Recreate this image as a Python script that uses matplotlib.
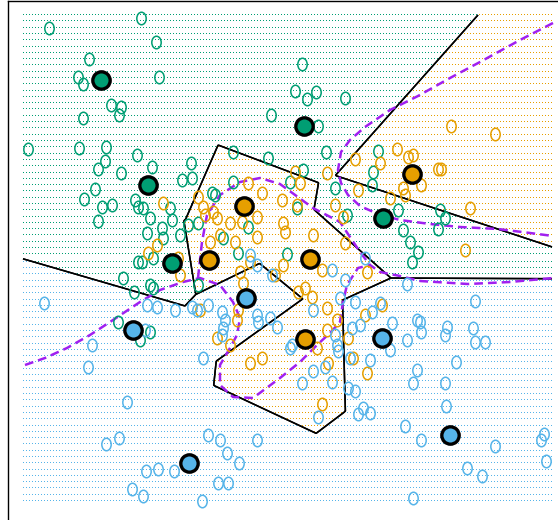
import numpy as np
import matplotlib.pyplot as plt
from matplotlib.colors import to_rgba
from matplotlib.path import Path

# all positions: x to the right, y downward (screen units)
green = '#009E73'
orange = '#E69F00'
blue = '#56B4E9'
purple = '#A020F0'

# k-means prototypes, five per class
proto_green_x = [101, 304, 148, 172, 383]
proto_green_y = [80, 126, 185, 263, 218]
proto_orange_x = [244, 209, 310, 305, 412]
proto_orange_y = [206, 260, 259, 339, 174]
proto_blue_x = [133, 246, 382, 450, 189]
proto_blue_y = [330, 298, 338, 435, 463]

# training points
green_x = [49, 141, 89, 78, 83, 111, 121, 119, 83, 28, 79, 106, 105, 98, 137, 121, 156, 159,
           271, 233, 268, 191, 152, 302, 295, 307, 316, 345, 318, 326, 378, 373, 303,
           95, 84, 102, 112, 98, 135, 138, 138, 123, 134, 118, 140,
           182, 192, 143, 150, 170, 172, 162, 163, 147, 180, 188, 198, 212, 215, 233, 223,
           248, 238, 153, 142, 150, 153, 198, 150,
           290, 297, 335, 372, 347, 398, 403, 410, 418, 412, 287, 440, 445, 438]
green_y = [28, 18, 59, 77, 84, 105, 107, 115, 118, 149, 148, 147, 161, 169, 155, 173, 42, 77,
           115, 152, 158, 163, 167, 64, 91, 99, 92, 98, 126, 152, 151, 172, 170,
           189, 199, 207, 205, 221, 200, 207, 262, 278, 292, 322, 340,
           180, 178, 208, 218, 208, 220, 228, 238, 233, 235, 225, 223, 193, 195, 182, 238,
           227, 253, 258, 262, 285, 288, 285, 332,
           182, 208, 188, 185, 215, 210, 230, 242, 252, 262, 254, 210, 218, 229]

orange_x = [355, 397, 408, 413, 380, 295, 327, 451, 495, 438, 441,
            163, 198, 203, 205, 213, 217, 230, 242, 257, 262, 248, 257, 220, 210, 235, 157,
            148, 178, 180, 250, 240, 275, 243, 238, 200, 217, 230, 237,
            300, 282, 297, 335, 358, 390, 403, 405, 343, 313, 345, 283, 285, 283, 322, 367,
            305, 298, 312, 327, 365, 382, 337, 327, 348, 421, 470, 465,
            250, 262, 317, 328, 353, 367, 322]
orange_y = [159, 149, 157, 155, 163, 172, 173, 126, 134, 169, 169,
            203, 197, 207, 215, 212, 218, 223, 222, 217, 193, 183, 237, 235, 242, 242, 245,
            253, 258, 275, 262, 272, 275, 283, 310, 310, 338, 345, 320,
            183, 200, 205, 205, 190, 198, 188, 195, 217, 235, 243, 223, 232, 265, 270, 272,
            288, 292, 297, 308, 315, 305, 320, 330, 338, 185, 208, 250,
            363, 358, 348, 363, 358, 373, 404]

blue_x = [44, 92, 88, 127, 106, 119, 132,
          147, 157, 175, 192, 197, 208, 222, 225, 223, 222, 250, 257, 257, 258, 270, 277,
          145, 272, 365, 332, 345, 340, 355, 313, 380, 372, 360, 352, 392, 407, 417, 335,
          337, 407, 292, 475, 420, 421, 447, 445, 473, 475, 485,
          203, 208, 220, 257, 227, 239, 146, 158, 174, 218, 228, 143, 202,
          290, 338, 350, 370, 390, 313, 325, 302, 332, 348, 355, 363, 358, 370, 318, 405,
          413, 417, 413, 421, 456, 445, 446, 495, 467, 482, 541, 544, 546]
blue_y = [303, 345, 367, 402, 444, 438, 489,
          305, 307, 310, 307, 310, 305, 312, 320, 328, 335, 255, 265, 315, 322, 318, 327,
          330, 275, 258, 270, 280, 298, 302, 310, 303, 312, 325, 328, 323, 340, 320, 335,
          345, 284, 345, 301, 322, 332, 327, 335, 328, 342, 342,
          358, 435, 440, 440, 453, 463, 471, 469, 471, 483, 483, 496, 501,
          348, 351, 358, 360, 350, 371, 367, 383, 382, 388, 391, 408, 414, 413, 417, 426,
          383, 370, 498, 440, 362, 383, 406, 446, 468, 476, 440, 434, 461]

# Bayes decision boundary, traced
bayes_a_x = [553, 520, 480, 450, 418, 390, 365, 350, 341, 338, 341, 348, 360, 378, 400,
             430, 460, 498, 530, 553]
bayes_a_y = [23, 40, 62, 78, 96, 110, 127, 140, 152, 170, 183, 195, 206, 214, 220,
             224, 227, 229, 233, 236]
bayes_b_x = [25, 45, 67, 90, 110, 125, 140, 160, 183, 200, 220, 233, 240, 237, 230, 220,
             220, 233, 253, 280, 300, 317, 330, 340, 343, 347, 358, 370, 380, 400, 420,
             468, 510, 553]
bayes_b_y = [365, 358, 348, 335, 322, 312, 302, 290, 282, 278, 285, 302, 318, 335, 348,
             365, 385, 397, 398, 378, 362, 345, 333, 322, 302, 285, 268, 265, 272, 276,
             281, 284, 282, 278]
bayes_c_x = [198, 202, 207, 220, 240, 260, 280, 313, 340, 360, 370]
bayes_c_y = [278, 242, 215, 195, 182, 178, 184, 208, 222, 252, 265]

# y is drawn about 1.42x more stretched than x, so distances use this weight
Y_WEIGHT = 2.0

protos = [(proto_green_x, proto_green_y), (proto_orange_x, proto_orange_y),
          (proto_blue_x, proto_blue_y)]
colors = [green, orange, blue]


def class_dist(xx, yy):
    out = []
    for px, py in protos:
        d = np.min([np.hypot(xx - a, np.sqrt(Y_WEIGHT) * (yy - b)) for a, b in zip(px, py)],
                   axis=0)
        out.append(d)
    return np.array(out)


fig = plt.figure(figsize=(5.58, 5.20), dpi=100)
ax = fig.add_axes([7.5 / 558, -0.1, 1.0, 1.1 - 1 / 520])

# dotted background coloured by the prototype classifier: one-pixel dots
x0, x1, y0, y1 = 23, 553, 15, 504
img = np.zeros((y1 - y0, x1 - x0, 4))
rows = np.round(np.arange(0, y1 - y0, 6.3)).astype(int)
cols = np.arange(0, x1 - x0, 3)
cc, rr = np.meshgrid(cols, rows)
lab = np.argmin(class_dist(x0 + cc + 0.5, y0 + rr + 0.5), axis=0)
for k in range(3):
    m = lab == k
    img[rr[m], cc[m]] = to_rgba(colors[k])
ax.imshow(img, extent=(x0, x1, y1, y0), origin='upper', interpolation='nearest',
          aspect='auto', zorder=1)

# prototype decision boundary
fx, fy = np.meshgrid(np.arange(x0, x1, 1.0), np.arange(y0, y1, 1.0))
dist = class_dist(fx, fy)
for k in range(3):
    others = np.min(np.delete(dist, k, axis=0), axis=0)
    ax.contour(fx, fy, dist[k] - others, levels=[0], colors='k', linewidths=1.1, zorder=3)

for bx, by in [(bayes_a_x, bayes_a_y), (bayes_b_x, bayes_b_y), (bayes_c_x, bayes_c_y)]:
    ax.plot(bx, by, color=purple, lw=1.8, dashes=(3.5, 2), zorder=4)

circ = Path.unit_circle()
o_marker = Path(circ.vertices * [0.75, 1.0], circ.codes)
for (x, y), c in zip([(green_x, green_y), (orange_x, orange_y), (blue_x, blue_y)], colors):
    ax.plot(x, y, ls='', marker=o_marker, ms=9, mfc='none', mec=c, mew=1.1, zorder=5)

for (px, py), c in zip(protos, colors):
    ax.plot(px, py, ls='', marker='o', ms=12.5, mfc=c, mec='k', mew=2.4, zorder=6)

ax.set_xlim(7.5, 7.5 + 558)
ax.set_ylim(572, 1)
ax.set_xticks([])
ax.set_yticks([])
for s in ax.spines.values():
    s.set_linewidth(1.0)

fig.savefig('out.png', dpi=100)
